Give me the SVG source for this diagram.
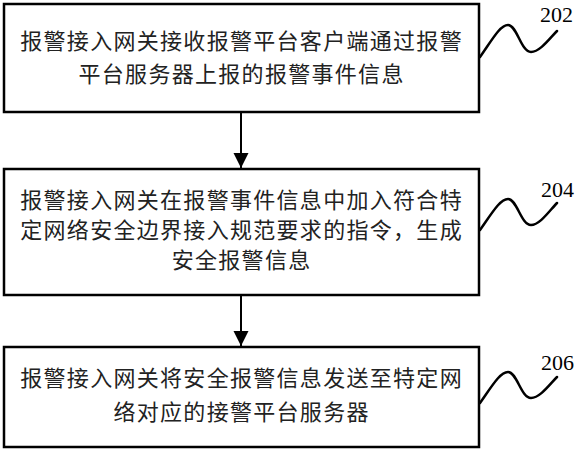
<svg xmlns="http://www.w3.org/2000/svg" width="576" height="450" viewBox="0 0 576 450">
  <style>
    .box { fill: #ffffff; stroke: #000000; stroke-width: 2.5; }
    .txt { font-family: "Noto Sans CJK SC", "Noto Sans CJK JP", sans-serif; font-size: 22px; letter-spacing: 1.3px; fill: #222222; text-anchor: middle; }
    .lbl { font-family: "Liberation Serif", "Times New Roman", serif; font-size: 22px; fill: #000000; }
    .sq { fill: none; stroke: #000000; stroke-width: 2.5; stroke-linecap: round; }
    .conn { stroke: #000000; stroke-width: 2; fill: none; }
  </style>
  <defs>
    <marker id="arrow" markerUnits="userSpaceOnUse" markerWidth="16" markerHeight="16" refX="15" refY="8" orient="auto">
      <path d="M0,0.5 L15,8 L0,15.5 Z" fill="#000000"/>
    </marker>
  </defs>
  <rect width="576" height="450" fill="#ffffff"/>

  <g id="step202">
    <rect class="box" x="4" y="4" width="475" height="108"/>
    <text class="txt" x="241.6" y="49">报警接入网关接收报警平台客户端通过报警</text>
    <text class="txt" x="241.6" y="82">平台服务器上报的报警事件信息</text>
    <path class="sq" d="M480,57 C492,40 500,25 508,25 C517,25 521,52 531,52 C540,52 550,38 557,31"/>
    <text class="lbl" x="540" y="22">202</text>
  </g>

  <g id="step204">
    <rect class="box" x="4" y="169" width="475" height="126"/>
    <text class="txt" x="241.6" y="208">报警接入网关在报警事件信息中加入符合特</text>
    <text class="txt" x="241.6" y="238">定网络安全边界接入规范要求的指令，生成</text>
    <text class="txt" x="241.6" y="268">安全报警信息</text>
    <path class="sq" d="M480,230 C492,213 500,199 508,199 C517,199 521,225 531,225 C540,225 550,210 557,203"/>
    <text class="lbl" x="541" y="197">204</text>
  </g>

  <g id="step206">
    <rect class="box" x="4" y="347" width="475" height="100"/>
    <text class="txt" x="241.6" y="386">报警接入网关将安全报警信息发送至特定网</text>
    <text class="txt" x="241.6" y="420">络对应的接警平台服务器</text>
    <path class="sq" d="M480,403 C492,386 500,372 508,372 C517,372 521,398 531,398 C540,398 550,384 557,377"/>
    <text class="lbl" x="541" y="370">206</text>
  </g>

  <g id="connectors">
    <line class="conn" x1="241" y1="113" x2="241" y2="168" marker-end="url(#arrow)"/>
    <line class="conn" x1="241" y1="296" x2="241" y2="346" marker-end="url(#arrow)"/>
  </g>
</svg>
